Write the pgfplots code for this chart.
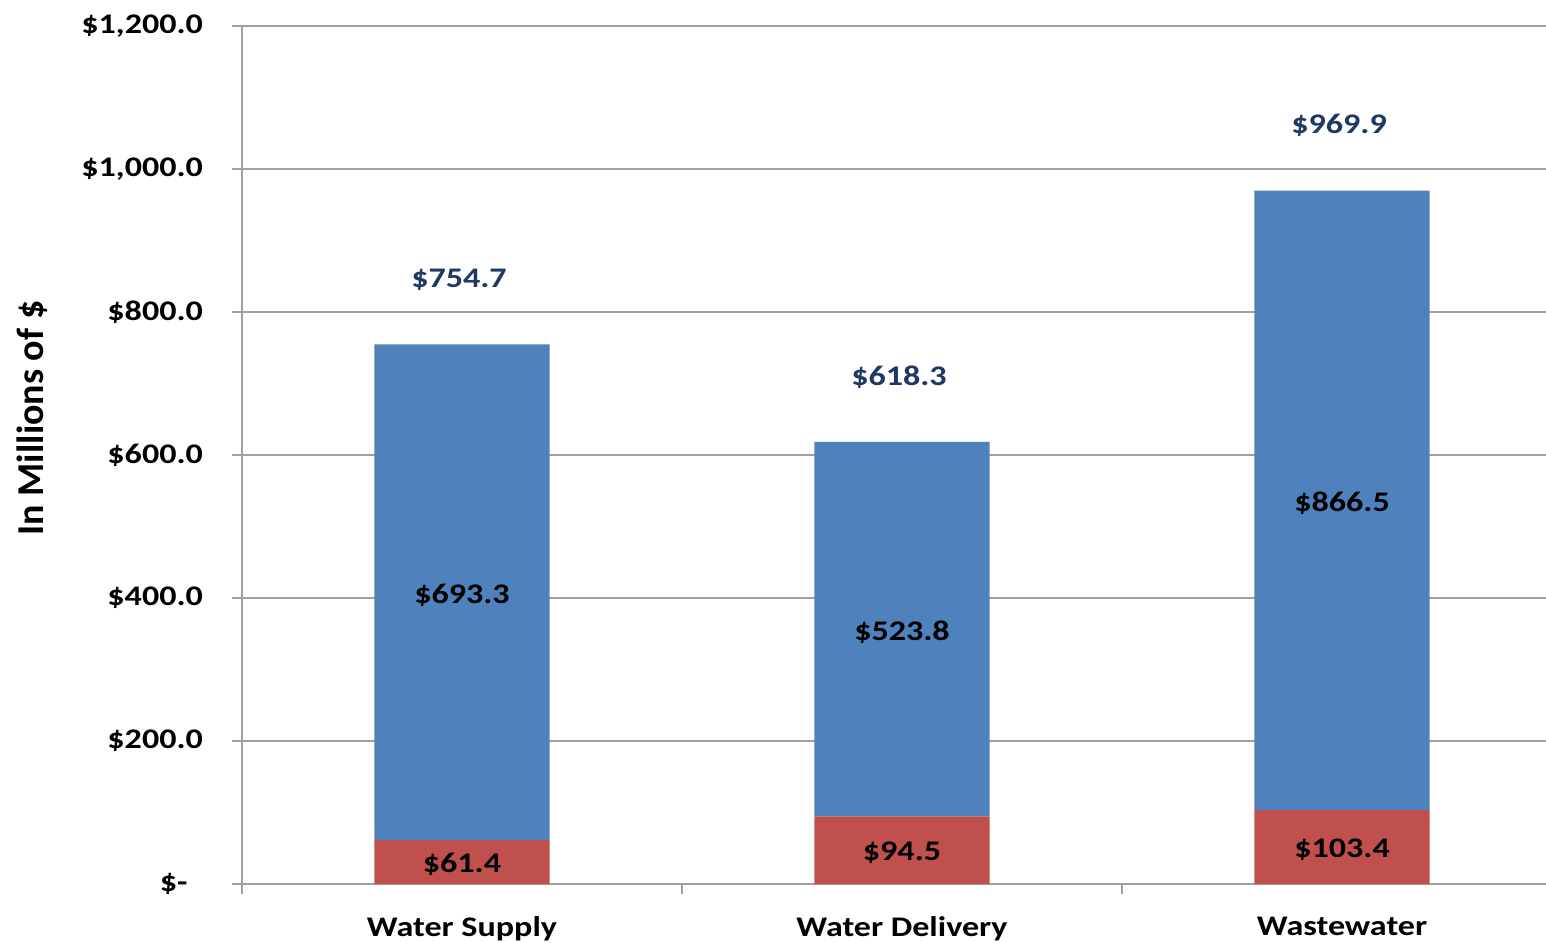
\documentclass[border=0pt]{standalone}
\usepackage{fontspec}
\setmainfont{Carlito}[FakeStretch=1.2]
\newfontfamily\titlefont{Carlito}
\usepackage{pgfplots}
\pgfplotsset{compat=1.18}
\usepackage{pgfplotstable}
\definecolor{cblue}{HTML}{4F81BD}
\definecolor{cred}{HTML}{C0504D}
\definecolor{ctotal}{HTML}{1F3864}
\definecolor{cgrid}{HTML}{A0A0A0}

\pgfplotstableread{
x red blue total
0 61.4 693.3 754.7
1 94.5 523.8 618.3
2 103.4 866.5 969.9
}\costs

\newcommand{\lblfont}{\fontsize{14.2}{16}\selectfont\bfseries}
\newcommand{\money}{\$\pgfmathprintnumber[fixed,fixed zerofill,precision=1,assume math mode=true]{\pgfplotspointmeta}}

\begin{document}
\begin{tikzpicture}
\begin{axis}[
  ybar stacked,
  scale only axis,
  width=652pt, height=429pt,
  xmin=-0.5, xmax=2.4636,
  ymin=0, ymax=1200,
  enlargelimits=false,
  clip=false,
  bar width=0.398,
  axis x line*=bottom, axis y line*=left,
  axis line style={cgrid, line width=0.8pt},
  ymajorgrids, grid style={cgrid, line width=0.8pt},
  tick align=outside,
  major tick length=5pt, minor tick length=5pt,
  ytick={0,200,...,1200},
  yticklabels={\$-\ \ \ ,\$200.0,\$400.0,\$600.0,\$800.0,{\$1,000.0},{\$1,200.0}},
  ytick style={cgrid, line width=0.8pt},
  xtick={0,1,2},
  xticklabels={Water Supply,Water Delivery,Wastewater},
  major x tick style={draw=none},
  minor xtick={-0.5,0.5,1.5},
  minor x tick style={cgrid, line width=0.8pt},
  tick label style={font=\lblfont},
  yticklabel style={xshift=-11pt},
  xticklabel style={yshift=-8pt},
  point meta=explicit,
]
\addplot[fill=cred, draw=none,
  nodes near coords=\money,
  nodes near coords style={font=\lblfont, anchor=center, yshift=-1.2pt}]
  table[x=x, y=red, meta=red] {\costs};
\addplot[fill=cblue, draw=none,
  nodes near coords=\money,
  nodes near coords style={font=\lblfont, anchor=center, yshift=-1.5pt}]
  table[x=x, y=blue, meta=blue] {\costs};
% totals: labels only, above each stack
\addplot[stack plots=false, sharp plot, draw=none, mark=none,
  visualization depends on={rawy\as\tot},
  nodes near coords=\money,
  nodes near coords style={font=\lblfont, text=ctotal, anchor=center,
    shift={(axis direction cs:0,\tot/2)}, xshift=-1.5pt, yshift=32.5pt}]
  table[x=x, y=total, meta=total] {\costs};
\node[rotate=90, font=\titlefont\fontsize{19}{21}\selectfont\bfseries, anchor=center]
  at ([xshift=-105pt]rel axis cs:0,0.543) {In Millions of \$};
\coordinate (bl) at (rel axis cs:0,0);
\coordinate (tr) at (rel axis cs:1,1);
\end{axis}
\pgfresetboundingbox
\path ([shift={(-121pt,-29pt)}]bl) rectangle ([yshift=13pt]tr);
\end{tikzpicture}
\end{document}
